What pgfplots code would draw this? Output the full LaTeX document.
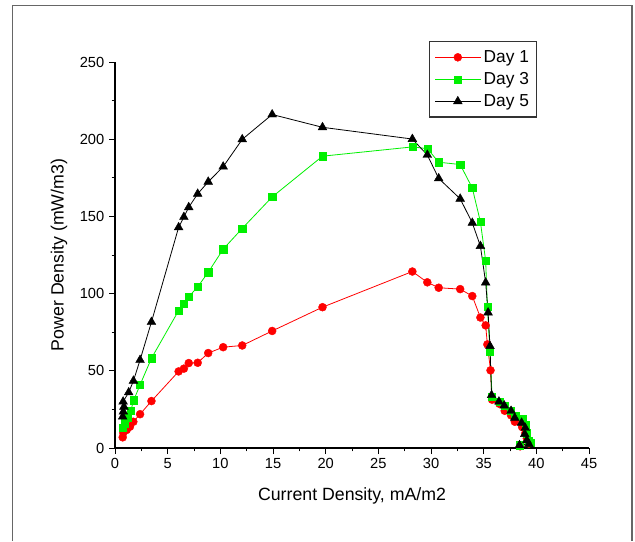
\documentclass[border=0pt]{standalone}
\usepackage{pgfplots}
\pgfplotsset{compat=1.18}
\usepackage{fontspec}
\setmainfont{Liberation Sans}
\definecolor{dgreen}{RGB}{0,240,0}
\begin{document}
\begin{tikzpicture}
\path (0pt,0pt) rectangle (476.25pt,406.5pt);
\draw[black!60, line width=1pt] (9.375pt,0.6pt) -- (9.375pt,402.6pt) -- (474pt,402.6pt) -- (474pt,0.6pt);
\begin{axis}[
  at={(86.25pt,70.5pt)}, anchor=south west,
  scale only axis, width=355.5pt, height=289.5pt,
  xmin=0, xmax=45, ymin=0, ymax=250,
  axis lines*=left, axis line style={line width=0.8pt},
  xtick={0,5,...,45}, ytick={0,50,...,250},
  minor x tick num=1, minor y tick num=1,
  tick align=outside, major tick length=4.5pt, minor tick length=2.5pt,
  tick style={black, line width=0.7pt},
  ticklabel style={font=\fontsize{11}{13}\selectfont},
  /pgf/number format/assume math mode=true,
  xlabel={Current Density, mA/m2},
  ylabel={Power Density (mW/m3)},
  label style={font=\fontsize{13.3}{15}\selectfont},
  xlabel style={at={(axis description cs:0.5,-0.124)}, anchor=center},
  ylabel style={at={(axis description cs:-0.118,0.5)}, anchor=center},
  clip=false,
  legend style={at={(rel axis cs:0.662,1.054)}, anchor=north west,
    font=\fontsize{13}{15}\selectfont, draw=black!80, line width=0.8pt,
    inner xsep=4pt, inner ysep=4.5pt, row sep=2pt},
  legend cell align=left,
  legend image code/.code={\draw[mark repeat=2,mark phase=2] plot coordinates {(0cm,0cm)(0.6cm,0cm)(1.2cm,0cm)};},
]
\addplot[red, line width=0.6pt, mark=*, mark size=3pt, mark options={solid, fill=red, draw=red, line width=0.3pt}] coordinates {
(0.73,6.9) (0.79,9.9) (1.11,11.7) (1.42,13.8) (1.74,17) (2.38,21.9) (3.46,30.4)
(6.04,49.6) (6.54,51.4) (7.0,55) (7.85,55.2) (8.85,61.5) (10.27,65.3) (12.08,66.4)
(14.92,75.8) (19.7,91.2) (28.23,114.3) (29.65,107.3) (30.73,103.8) (32.77,102.9)
(33.92,98.4) (34.69,84.5) (35.19,79.4) (35.35,67.1) (35.65,50.3) (35.8,31.3)
(36.5,28.6) (37.0,24.1) (37.6,21.2) (37.96,17) (38.65,13.6) (38.96,9.6) (39.1,6.3)
(39.3,2.9) (38.46,1.1)
};
\addlegendentry{Day 1}
\addplot[dgreen, line width=0.6pt, mark=square*, mark size=2.7pt, mark options={solid, fill=dgreen, draw=dgreen, line width=0.3pt}] coordinates {
(0.75,13) (0.95,16) (1.2,20) (1.49,24) (1.78,31) (2.38,40.9) (3.46,58.1)
(6.04,89) (6.54,93.5) (7.0,97.9) (7.85,104.4) (8.85,113.8) (10.27,128.8) (12.08,142.2)
(14.92,162.6) (19.7,189) (28.23,195) (29.65,193.9) (30.73,185.1) (32.77,183.6)
(33.92,168.4) (34.69,146.5) (35.19,121.2) (35.35,91.7) (35.6,62.2) (35.8,33)
(36.5,30.2) (37.0,27.5) (37.6,24.1) (38.0,20.8) (38.7,19) (39.0,15.2) (39.1,9.6)
(39.3,4.5) (39.5,3.4) (38.4,1.8)
};
\addlegendentry{Day 3}
\addplot[black, line width=0.6pt, mark=triangle*, mark size=3.8pt, mark options={solid, fill=black, draw=black, line width=0.3pt}] coordinates {
(0.73,20.3) (0.79,23.5) (0.85,26.7) (0.77,30) (1.3,36) (1.75,43.5) (2.38,57) (3.46,81.6)
(6.04,142.9) (6.54,149.6) (7.0,155.9) (7.85,164.6) (8.85,172.4) (10.27,182.2) (12.08,199.9)
(14.92,216) (19.7,207.7) (28.23,200.1) (29.65,189.8) (30.73,174.6) (32.77,161.4)
(33.92,145.8) (34.69,130.8) (35.19,107.1) (35.42,87.7) (35.6,66) (35.75,34.2)
(36.45,30) (36.95,27.5) (37.6,24) (37.95,19.5) (38.6,16.3) (38.95,13) (38.9,9)
(39.1,5) (39.3,2.5) (38.4,1.8)
};
\addlegendentry{Day 5}
\end{axis}
\end{tikzpicture}
\end{document}
